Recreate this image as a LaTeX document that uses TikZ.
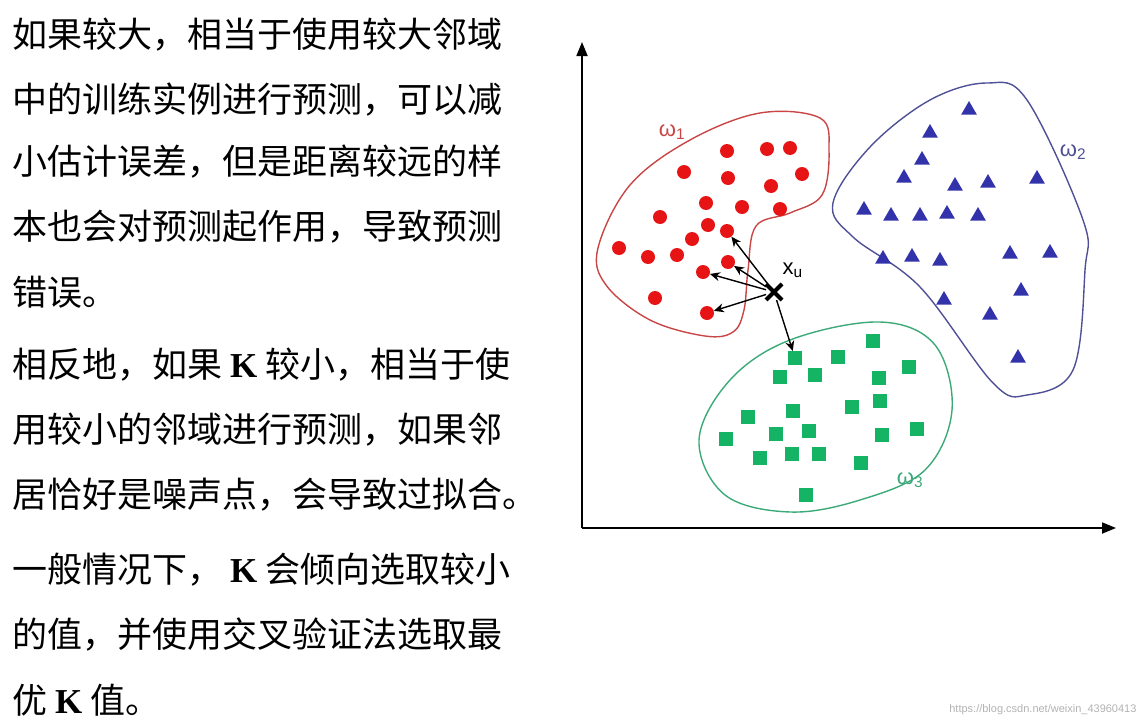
\documentclass[tikz,border=0pt]{standalone}
\usepackage{fontspec}
\setmainfont{Liberation Serif}
\newfontfamily\cjk{Noto Sans CJK SC}
\newfontfamily\lsans{Liberation Sans}
\usetikzlibrary{arrows.meta,shapes.geometric,shapes.misc}
\definecolor{rr}{RGB}{230,20,20}
\definecolor{rb}{RGB}{200,70,70}
\definecolor{bb}{RGB}{50,50,170}
\definecolor{bo}{RGB}{80,80,150}
\definecolor{gg}{RGB}{20,180,100}
\definecolor{go}{RGB}{60,170,120}
\newcommand{\KK}{\textbf{K}}
\begin{document}
\begin{tikzpicture}[x=1pt,y=-1pt,
 txt/.style={anchor=west,inner sep=0pt,font=\fontsize{35}{36}\selectfont\cjk},
 rd/.style={circle,fill=rr,inner sep=0pt,minimum size=14pt},
 tr/.style={regular polygon,regular polygon sides=3,fill=bb,inner sep=0pt,minimum size=18pt},
 sq/.style={rectangle,fill=gg,inner sep=0pt,minimum size=13.5pt},
 arr/.style={-{Stealth[length=10pt,width=9pt]},line width=1.4pt},
 lab/.style={font=\fontsize{22}{22}\selectfont\lsans}]
\useasboundingbox (0,0) rectangle (1145,720);
\node[txt] (t1) at (12,35) {如果较大，相当于使用较大邻域};
\node[txt] (t2) at (12,100) {中的训练实例进行预测，可以减};
\node[txt] (t3) at (12,162) {小估计误差，但是距离较远的样};
\node[txt] (t4) at (12,227) {本也会对预测起作用，导致预测};
\node[txt] (t5) at (12,292) {错误。};
\node[txt] (t6) at (12,365) {相反地，如果 {\rmfamily\KK} 较小，相当于使};
\node[txt] (t7) at (12,430) {用较小的邻域进行预测，如果邻};
\node[txt] (t8) at (12,495) {居恰好是噪声点，会导致过拟合。};
\node[txt] (t9) at (12,570) {一般情况下， {\rmfamily\KK} 会倾向选取较小};
\node[txt] (t10) at (12,635) {的值，并使用交叉验证法选取最};
\node[txt] (t11) at (12,700) {优 {\rmfamily\KK} 值。};
% axes
\coordinate (o) at (582,528);
\coordinate (ya) at (582,42);
\coordinate (xa) at (1116,528);
\draw[line width=1.8pt,-{Triangle[length=14pt,width=11pt]}] (o) -- (ya);
\draw[line width=1.8pt,-{Triangle[length=14pt,width=11pt]}] (o) -- (xa);
% blobs
\draw[rb,line width=1.4pt] plot[smooth cycle,tension=0.6] coordinates {(598,248) (630,185) (690,140) (760,113) (820,118) (829,150) (822,195) (790,213) (756,226) (748,270) (744,310) (733,332) (705,336) (650,320) (606,285)};
\draw[bo,line width=1.4pt] plot[smooth cycle,tension=0.6] coordinates {(833,203) (870,147) (930,100) (987,83) (1027,100) (1083,220) (1085,270) (1073,370) (1027,395) (993,383) (920,287) (853,237)};
\draw[go,line width=1.4pt] plot[smooth cycle,tension=0.6] coordinates {(699,440) (730,380) (790,340) (880,322) (935,345) (952,410) (925,470) (860,500) (790,512) (725,495)};
% red
\foreach \p [count=\i] in {(727,151),(767,149),(790,148),(684,172),(728,178),(802,174),(771,186),(706,203),(742,207),(780,209),(660,217),(708,225),(727,231),(692,239),(619,248),(648,257),(677,255),(728,262),(703,272),(655,298),(707,313)}
  \node[rd] (r\i) at \p {};
% blue
\foreach \p [count=\i] in {(969,110),(930,133),(922,160),(904,178),(955,186),(988,183),(1037,179),(864,210),(891,216),(920,216),(947,214),(978,216),(883,259),(912,257),(940,261),(1010,254),(1050,253),(1021,291),(944,300),(990,315),(1018,358)}
  \node[tr] (b\i) at \p {};
% green
\foreach \p [count=\i] in {(873,341),(795,358),(838,357),(909,367),(780,377),(815,375),(879,378),(880,401),(852,407),(793,411),(748,417),(776,434),(809,431),(882,435),(917,429),(726,439),(760,458),(792,454),(819,454),(861,463),(806,495)}
  \node[sq] (g\i) at \p {};
% query
\node[cross out,draw,line width=4pt,inner sep=0pt,minimum size=12pt] (xu) at (774,292) {};
\node[lab,anchor=west] (xul) at (779,270) {x\textsubscript{u}};
\draw[arr] (xu) -- (r13);
\draw[arr] (xu) -- (r18);
\draw[arr] (xu) -- (r19);
\draw[arr] (xu) -- (r21);
\draw[arr] (xu) -- (g2);
\node[lab,rb] (w1) at (672,132) {ω\textsubscript{1}};
\node[lab,bo] (w2) at (1073,152) {ω\textsubscript{2}};
\node[lab,go] (w3) at (910,480) {ω\textsubscript{3}};
\node[anchor=south east,gray!60,font=\fontsize{11}{11}\selectfont\lsans] (wm) at (1140,718) {https://blog.csdn.net/weixin\_43960413};
\end{tikzpicture}
\end{document}
